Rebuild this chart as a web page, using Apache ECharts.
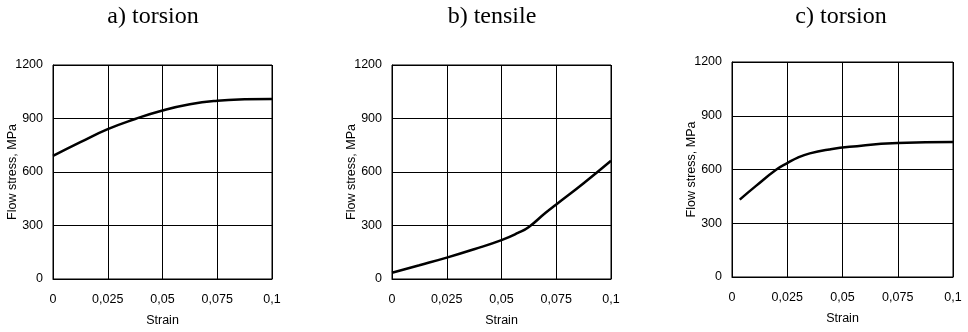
<!DOCTYPE html>
<html>
<head>
<meta charset="utf-8">
<script src="https://cdn.jsdelivr.net/npm/echarts@6/dist/echarts.min.js"></script>
<style>
  html, body { margin: 0; padding: 0; background: #fff; }
  #chart { width: 968px; height: 332px; }
</style>
</head>
<body>
<div id="chart"></div>
<script>
// panel titles
const titles = ["a) torsion", "b) tensile", "c) torsion"];
const titleX = [153, 492, 841];

// strain / flow stress
const torsionA = [
  [0, 690], [0.0125, 767], [0.025, 840], [0.0375, 897], [0.05, 945],
  [0.0625, 980], [0.075, 1000], [0.0875, 1008], [0.1, 1010]
];
const tensileB = [
  [0, 35], [0.0125, 77], [0.025, 120], [0.0375, 167], [0.05, 218],
  [0.0575, 258], [0.0625, 292], [0.07, 370], [0.075, 418], [0.0875, 537], [0.1, 663]
];
const torsionC = [
  [0.0035, 432], [0.011, 510], [0.0201, 600], [0.025, 636], [0.03, 668],
  [0.0352, 690], [0.044, 712], [0.0532, 727], [0.075, 748], [0.1, 753]
];
const seriesData = [torsionA, tensileB, torsionC];

// axes
const xMin = 0, xMax = 0.1, xStep = 0.025;
const yMin = 0, yMax = 1200, yStep = 300;
const xName = "Strain";
const yName = "Flow stress, MPa";

const grids = [
  { left: 53, top: 65, width: 219, height: 214 },
  { left: 392, top: 65, width: 219, height: 214 },
  { left: 732, top: 62, width: 221, height: 215 }
];

const sans = "Liberation Sans, Arial, sans-serif";
const labelStyle = { color: "#000", fontFamily: sans, fontSize: 12.5 };

const xAxes = grids.map((g, i) => ({
  type: "value",
  gridIndex: i,
  min: xMin,
  max: xMax,
  interval: xStep,
  name: xName,
  nameLocation: "middle",
  nameGap: 35,
  nameMoveOverlap: false,
  nameTextStyle: { ...labelStyle },
  axisLine: { show: true, lineStyle: { color: "#000", width: 1 } },
  axisTick: { show: false },
  axisLabel: {
    ...labelStyle,
    margin: 14,
    formatter: v => String(Number(v.toFixed(3))).replace(".", ",")
  },
  splitLine: { show: true, lineStyle: { color: "#000", width: 1 } }
}));

const yAxes = grids.map((g, i) => ({
  type: "value",
  gridIndex: i,
  min: yMin,
  max: yMax,
  interval: yStep,
  name: yName,
  nameLocation: "middle",
  nameGap: 34,
  nameMoveOverlap: false,
  nameTextStyle: { ...labelStyle },
  axisLine: { show: true, lineStyle: { color: "#000", width: 1 } },
  axisTick: { show: false },
  axisLabel: { ...labelStyle, margin: 10, formatter: v => String(v) },
  splitLine: { show: true, lineStyle: { color: "#000", width: 1 } }
}));

const chart = echarts.init(document.getElementById("chart"), null, { renderer: "canvas" });
chart.setOption({
  animation: false,
  backgroundColor: "#fff",
  grid: grids.map(g => ({
    ...g,
    show: true,
    borderColor: "#000",
    borderWidth: 1,
    containLabel: false,
    outerBoundsMode: "none"
  })),
  xAxis: xAxes,
  yAxis: yAxes,
  graphic: titles.map((t, i) => ({
    type: "text",
    x: titleX[i],
    y: 17,
    style: {
      text: t,
      fill: "#000",
      font: "24px 'Liberation Serif', 'Times New Roman', serif",
      textAlign: "center",
      textVerticalAlign: "middle"
    }
  })),
  series: seriesData.map((d, i) => ({
    type: "line",
    xAxisIndex: i,
    yAxisIndex: i,
    data: d,
    smooth: true,
    showSymbol: false,
    lineStyle: { color: "#000", width: 2.5 }
  }))
});
</script>
</body>
</html>
